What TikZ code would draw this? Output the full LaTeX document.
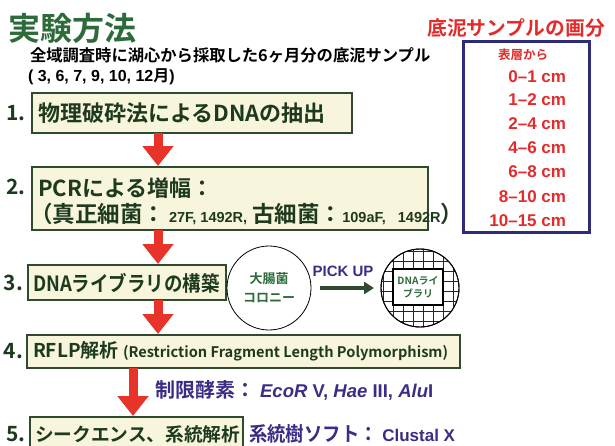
\documentclass[tikz,border=0pt]{standalone}
\usepackage{fontspec}
\setmainfont{Noto Sans CJK JP}[BoldFont={Noto Sans CJK JP Bold}]
\newfontfamily\lat{Liberation Sans}
\usetikzlibrary{arrows.meta}
\definecolor{boxgreen}{HTML}{2F4A2F}
\definecolor{boxfill}{HTML}{F7F6DC}
\definecolor{textgreen}{HTML}{1E3A1E}
\definecolor{titlegreen}{HTML}{2E6B3A}
\definecolor{arrowred}{HTML}{E8332A}
\definecolor{navy}{HTML}{2E2B7A}
\definecolor{purpletext}{HTML}{3B2D86}
\definecolor{redtext}{HTML}{E32B2B}
\begin{document}
\begin{tikzpicture}[x=1pt,y=-1pt,
  every node/.style={inner sep=0pt, outer sep=0pt, font=\bfseries},
  stepbox/.style={draw=boxgreen, line width=1.6pt, fill=boxfill, anchor=north west},
  boxtext/.style={text=textgreen, anchor=west, font=\bfseries\fontsize{22}{24}\selectfont},
  num/.style={text=textgreen, anchor=west, font=\bfseries\fontsize{21}{24}\selectfont},
  redarrow/.style={draw=arrowred, line width=9pt, -{Triangle[width=30pt,length=20pt]}},
  bluetext/.style={text=purpletext, anchor=west, font=\bfseries\fontsize{20}{22}\selectfont},
  cmtext/.style={text=redtext, anchor=east, font=\lat\bfseries\fontsize{17}{19}\selectfont},
  greensmall/.style={text=titlegreen, align=center, font=\bfseries\fontsize{13}{16}\selectfont},
]
\useasboundingbox (0,0) rectangle (615,445);

% title
\node[anchor=west, text=titlegreen, font=\bfseries\fontsize{32}{36}\selectfont] (title) at (9,28) {実験方法};
\node[anchor=west, text=black, font=\bfseries\fontsize{16.3}{18}\selectfont] (sub1) at (30,55) {全域調査時に湖心から採取した6ヶ月分の底泥サンプル};
\node[anchor=west, text=black, font=\bfseries\fontsize{16}{18}\selectfont] (sub2) at (28,77) {{\lat( 3, 6, 7, 9, 10, 12}月{\lat)}};

% boxes
\node[stepbox, minimum width=320pt, minimum height=40pt] (b1) at (32,93) {};
\node[stepbox, minimum width=396pt, minimum height=63pt] (b2) at (32,167) {};
\node[stepbox, minimum width=198pt, minimum height=35pt] (b3) at (28,265) {};
\node[stepbox, minimum width=433pt, minimum height=33pt] (b4) at (27,335) {};
\node[stepbox, minimum width=213pt, minimum height=40pt] (b5) at (30,417) {};

% numbers
\node[num] (n1) at (6,113) {1.};
\node[num] (n2) at (6,187) {2.};
\node[num] (n3) at (4,283) {3.};
\node[num] (n4) at (4,351) {4.};
\node[num] (n5) at (6,434) {5.};

% box texts
\node[boxtext] (t1) at (38,113) {物理破砕法によるDNAの抽出};
\node[boxtext] (t2a) at (38,188) {PCRによる増幅：};
\node[boxtext, font=\bfseries\fontsize{22.5}{24}\selectfont] (t2b) at (30,214) {（真正細菌：{\fontsize{14.5}{16}\selectfont\lat\bfseries\ 27F, 1492R,}\ 古細菌：{\fontsize{14.5}{16}\selectfont\lat\bfseries 109aF,\ \ \ 1492R}）};
\node[boxtext, font=\bfseries\fontsize{21}{24}\selectfont] (t3) at (33,283) {\scalebox{0.88}[1]{DNAライブラリの構築}};
\node[boxtext, font=\bfseries\fontsize{19}{24}\selectfont] (t4) at (33,351) {RFLP解析 {\fontsize{14.6}{18}\selectfont (Restriction Fragment Length Polymorphism)}};
\node[boxtext, font=\bfseries\fontsize{18.7}{24}\selectfont] (t5) at (35,434) {シークエンス、系統解析};

% red arrows
\coordinate (ax1) at (158,0);
\coordinate (ax2) at (133,0);
\draw[redarrow] (b1.south -| ax1) -- ([yshift=1pt]b2.north -| ax1);
\draw[redarrow] (b2.south -| ax1) -- ([yshift=1pt]b3.north -| ax1);
\draw[redarrow] (b3.south -| ax1) -- ([yshift=1pt]b4.north -| ax1);
\draw[redarrow] (b4.south -| ax2) -- ([yshift=1pt]b5.north -| ax2);

% blue texts
\node[bluetext] (enz) at (155,390) {制限酵素：{\fontsize{18.5}{22}\selectfont\lat\bfseries\ \textit{EcoR} V, \textit{Hae} III, \textit{Alu}I}};
\node[bluetext] (soft) at (249,434) {\scalebox{0.92}[1]{系統樹ソフト：} {\fontsize{17}{20}\selectfont\lat\bfseries Clustal X}};

% colony circle
\node[circle, draw=black, line width=0.8pt, fill=white, minimum size=84pt] (c1) at (269,288) {};
\node[greensmall] (c1t) at (c1.center) {大腸菌\\[3pt]コロニー};

% library circle with grid
\node[circle, draw=black, line width=0.9pt, minimum size=78pt] (c2) at (420,288) {};
\begin{scope}
  \clip (420,288) circle (39pt);
  \foreach \g in {0,...,8} {
    \draw[black!85, line width=0.6pt] (383+\g*10,240) -- (383+\g*10,340);
    \draw[black!85, line width=0.6pt] (370,251+\g*10) -- (470,251+\g*10);
  }
\end{scope}
\node[circle, draw=black, line width=0.9pt, minimum size=78pt] at (c2.center) {};
\node[draw=black, line width=1.2pt, fill=white, minimum width=50pt, minimum height=36pt] (lib) at (418,287) {};
\node[greensmall, font=\bfseries\fontsize{10}{13}\selectfont] (libt) at (lib.center) {DNAライ\\ブラリ};

% pick up
\node[text=purpletext, font=\lat\bfseries\fontsize{15}{17}\selectfont] (pick) at (343,271) {PICK UP};
\draw[draw=boxgreen, line width=3.5pt, -{Triangle[width=12pt,length=10pt]}] ([xshift=9pt]c1.east) -- ([xshift=-7pt]c2.west);

% right panel
\node[text=redtext, font=\bfseries\fontsize{19.8}{22}\selectfont] (stitle) at (516,28) {底泥サンプルの画分};
\node[draw=navy, line width=3pt, fill=white, minimum width=126pt, minimum height=191pt, anchor=north west] (sbox) at (463.5,41.5) {};
\node[text=redtext, font=\bfseries\fontsize{12.5}{14}\selectfont] (surf) at (523,55) {表層から};
\node[cmtext] (d1) at (566,77) {0–1 cm};
\node[cmtext] (d2) at (566,100) {1–2 cm};
\node[cmtext] (d3) at (566,124) {2–4 cm};
\node[cmtext] (d4) at (566,148) {4–6 cm};
\node[cmtext] (d5) at (566,172) {6–8 cm};
\node[cmtext] (d6) at (566,197) {8–10 cm};
\node[cmtext] (d7) at (566,221) {10–15 cm};
\end{tikzpicture}
\end{document}
